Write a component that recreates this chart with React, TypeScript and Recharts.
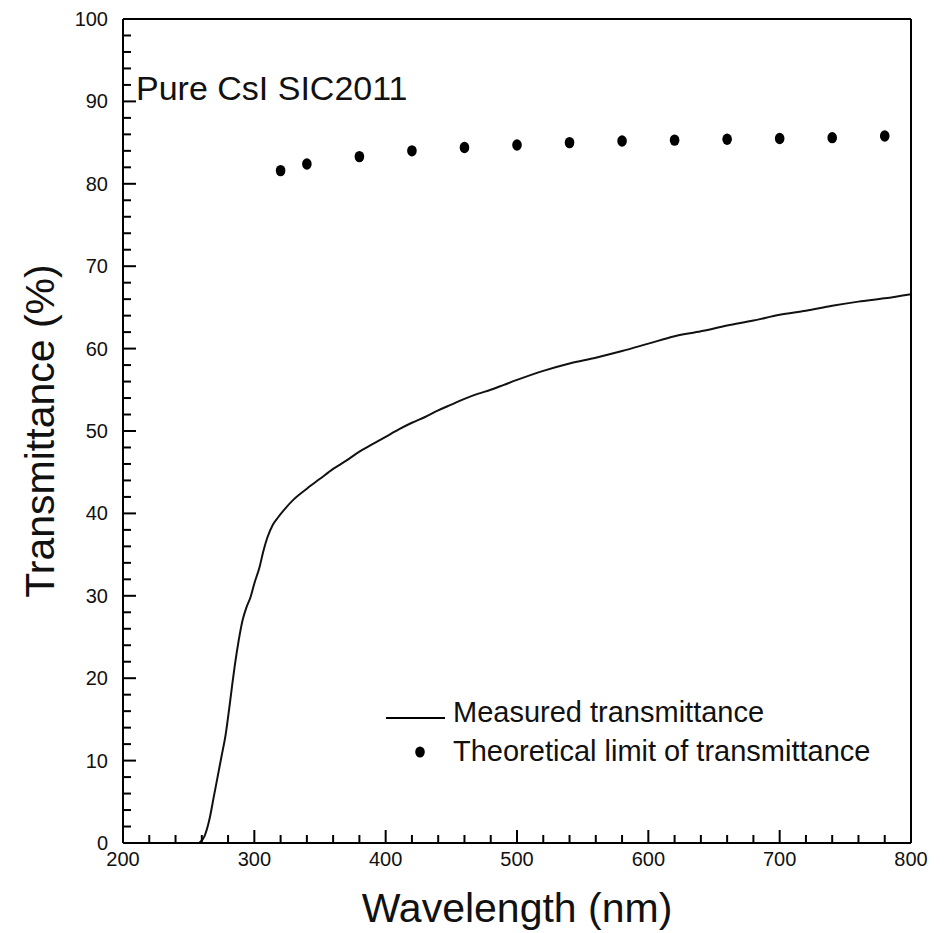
import { ComposedChart, Line, Scatter, XAxis, YAxis, Legend, Label } from 'recharts'

// measured curve (nm, %)
const measuredWavelength = [258, 262, 266, 269, 272, 275, 278, 281, 283, 285, 288, 291, 294, 297, 300, 304, 307, 310, 314, 318, 322, 330, 340, 350, 360, 370, 380, 390, 400, 410, 420, 430, 440, 450, 460, 470, 480, 490, 500, 520, 540, 560, 580, 600, 620, 640, 660, 680, 700, 720, 740, 760, 780, 800]
const measuredTransmittance = [0, 0.8, 3, 5.5, 8, 10.5, 13, 16.5, 19, 21.4, 24.5, 27, 28.6, 29.8, 31.5, 33.5, 35.5, 37.1, 38.6, 39.5, 40.3, 41.7, 43, 44.2, 45.4, 46.4, 47.5, 48.4, 49.3, 50.2, 51, 51.7, 52.5, 53.2, 53.9, 54.5, 55, 55.6, 56.2, 57.3, 58.2, 58.9, 59.7, 60.6, 61.5, 62.1, 62.8, 63.4, 64.1, 64.6, 65.2, 65.7, 66.1, 66.6]

// theoretical limit points
const theoryWavelength = [320, 340, 380, 420, 460, 500, 540, 580, 620, 660, 700, 740, 780]
const theoryTransmittance = [81.6, 82.4, 83.3, 84.0, 84.4, 84.7, 85.0, 85.2, 85.3, 85.4, 85.5, 85.6, 85.8]

const xMajor = [200, 300, 400, 500, 600, 700, 800]
const yMajor = [0, 10, 20, 30, 40, 50, 60, 70, 80, 90, 100]
const xTicks = Array.from({ length: 31 }, (_, i) => 200 + i * 20)
const yTicks = Array.from({ length: 51 }, (_, i) => i * 2)

const FONT = '"Liberation Sans", Arial, Helvetica, sans-serif'

const measured = measuredWavelength.map((x, i) => ({ x, t: measuredTransmittance[i] }))
const theory = theoryWavelength.map((x, i) => ({ x, t: theoryTransmittance[i] }))

const MAJOR = 13
const MINOR = 8

function BottomTick({ x, y, payload }: any) {
  const major = xMajor.includes(payload.value)
  return (
    <g>
      <line x1={x} x2={x} y1={y} y2={y - (major ? MAJOR : MINOR)} stroke="#000" strokeWidth={2} />
      {major && (
        <text x={x} y={y + 23} textAnchor="middle" fontSize={20} fontFamily={FONT} fill="#111">
          {payload.value}
        </text>
      )}
    </g>
  )
}

function TopTick({ x, y, payload }: any) {
  const major = xMajor.includes(payload.value)
  return <line x1={x} x2={x} y1={y} y2={y + (major ? MAJOR : MINOR)} stroke="#000" strokeWidth={2} />
}

function LeftTick({ x, y, payload }: any) {
  const major = yMajor.includes(payload.value)
  return (
    <g>
      <line x1={x} x2={x + (major ? MAJOR : MINOR)} y1={y} y2={y} stroke="#000" strokeWidth={2} />
      {major && (
        <text x={x - 15} y={y + 7} textAnchor="end" fontSize={20} fontFamily={FONT} fill="#111">
          {payload.value}
        </text>
      )}
    </g>
  )
}

function RightTick({ x, y, payload }: any) {
  const major = yMajor.includes(payload.value)
  return <line x1={x} x2={x - (major ? MAJOR : MINOR)} y1={y} y2={y} stroke="#000" strokeWidth={2} />
}

function LegendBox() {
  return (
    <svg width={540} height={75} style={{ display: 'block' }}>
      <line x1={0} x2={59} y1={22} y2={22} stroke="#000" strokeWidth={2} />
      <text x={67} y={26} fontSize={29} fontFamily={FONT} fill="#111">Measured transmittance</text>
      <ellipse cx={34} cy={56} rx={4.8} ry={5.5} fill="#000" />
      <text x={67} y={65} fontSize={29} fontFamily={FONT} fill="#111">Theoretical limit of transmittance</text>
    </svg>
  )
}

const Dot = (p: any) => <ellipse cx={p.cx} cy={p.cy} rx={4.8} ry={5.7} fill="#000" />

export default function App() {
  return (
    <div style={{ position: 'absolute', left: 0, top: 0, width: 946, height: 933 }}>
      <ComposedChart width={946} height={933} margin={{ top: 18, right: 34, bottom: 50, left: 43 }}>
        <XAxis xAxisId="bottom" dataKey="x" type="number" domain={[200, 800]} ticks={xTicks} interval={0}
          tickSize={0} tickMargin={0} tick={BottomTick} height={40} axisLine={{ stroke: '#000', strokeWidth: 2 }}
          allowDataOverflow>
          <Label value="Wavelength (nm)" position="bottom" offset={10} fontSize={41} fontFamily={FONT} fill="#111" />
        </XAxis>
        <XAxis xAxisId="top" orientation="top" dataKey="x" type="number" domain={[200, 800]} ticks={xTicks}
          interval={0} tickSize={0} tickMargin={0} tick={TopTick} height={1}
          axisLine={{ stroke: '#000', strokeWidth: 2 }} />
        <YAxis yAxisId="left" dataKey="t" type="number" domain={[0, 100]} ticks={yTicks} interval={0}
          tickSize={0} tickMargin={0} tick={LeftTick} width={80} axisLine={{ stroke: '#000', strokeWidth: 2 }}>
          <Label value="Transmittance (%)" angle={-90} position="insideLeft" offset={-4} fontSize={41}
            fontFamily={FONT} fill="#111" style={{ textAnchor: 'middle' }} />
        </YAxis>
        <YAxis yAxisId="right" orientation="right" type="number" domain={[0, 100]} ticks={yTicks} interval={0}
          tickSize={0} tickMargin={0} tick={RightTick} width={1} axisLine={{ stroke: '#000', strokeWidth: 2 }} />
        <Line xAxisId="bottom" yAxisId="left" data={measured} dataKey="t" type="monotone" stroke="#111"
          strokeWidth={2} dot={false} activeDot={false} isAnimationActive={false} />
        <Scatter xAxisId="bottom" yAxisId="left" data={theory} dataKey="t" shape={Dot} isAnimationActive={false} />
        <Legend content={LegendBox} layout="vertical" align="center" verticalAlign="middle"
          wrapperStyle={{ position: 'absolute', left: 386, top: 696, width: 540, height: 75 }} />
      </ComposedChart>
      <div style={{ position: 'absolute', left: 136, top: 71, fontFamily: FONT, fontSize: 34, lineHeight: '34px', color: '#111', whiteSpace: 'nowrap' }}>
        Pure CsI SIC2011
      </div>
    </div>
  )
}
